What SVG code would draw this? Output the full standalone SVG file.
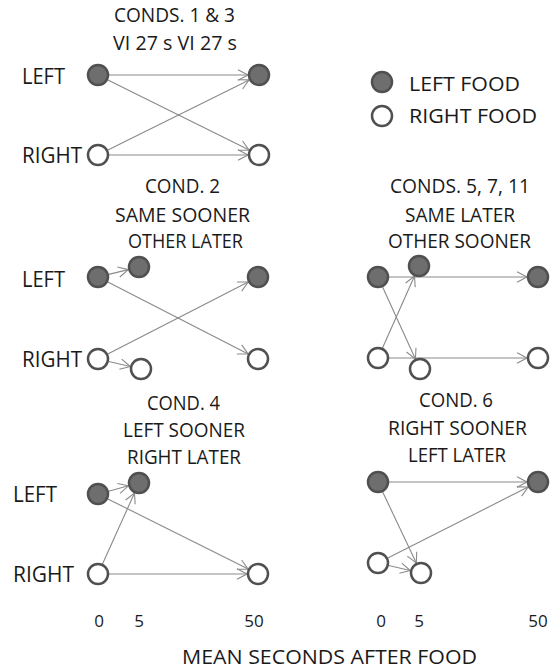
<svg xmlns="http://www.w3.org/2000/svg" width="557" height="671" viewBox="0 0 557 671">
<defs>
<style>
text{font-family:"Open Sans","Liberation Sans",sans-serif;fill:#1a1a1a;font-size:20.5px}
.lab{font-size:21.5px}
.ax{font-size:17px;text-anchor:middle}
.f{fill:#6e6e6e;stroke:#505050;stroke-width:2.5}
.o{fill:#ffffff;stroke:#505050;stroke-width:2.5}
.c line{stroke:#8a8a8a;stroke-width:1.1;marker-end:url(#ah)}
</style>
<marker id="ah" markerUnits="userSpaceOnUse" markerWidth="14" markerHeight="14" refX="11" refY="6" orient="auto" viewBox="0 0 14 12">
<path d="M1,0.8 L11,6 L1,11.2" fill="none" stroke="#8a8a8a" stroke-width="1.1"/>
</marker>
</defs>
<rect width="557" height="671" fill="#ffffff"/>

<g id="connectors" class="c">
<line x1="109" y1="75" x2="248" y2="75"/>
<line x1="107.9" y1="79.9" x2="249.2" y2="150.1"/>
<line x1="107.9" y1="150.1" x2="249.2" y2="79.9"/>
<line x1="109" y1="155" x2="248" y2="155"/>

<line x1="108.7" y1="274.4" x2="128.3" y2="269.6"/>
<line x1="107.8" y1="282" x2="248.2" y2="354"/>
<line x1="107.8" y1="354" x2="248.2" y2="282"/>
<line x1="108.7" y1="361.5" x2="130.3" y2="366.5"/>

<line x1="389" y1="277" x2="527" y2="277"/>
<line x1="389" y1="358" x2="527" y2="358"/>
<line x1="382.6" y1="287" x2="415.4" y2="359"/>
<line x1="382.5" y1="348" x2="414.5" y2="276"/>

<line x1="108.6" y1="491.2" x2="128.4" y2="485.8"/>
<line x1="107.8" y1="498.9" x2="248.2" y2="569.1"/>
<line x1="102.5" y1="564" x2="134.5" y2="493"/>
<line x1="109" y1="574" x2="247" y2="574"/>

<line x1="389" y1="482" x2="527" y2="482"/>
<line x1="382.7" y1="492" x2="416.3" y2="563"/>
<line x1="387.8" y1="558" x2="528.2" y2="487"/>
<line x1="388.7" y1="565.5" x2="410.3" y2="570.5"/>
</g>

<g id="panel1">
<text x="114" y="22" textLength="121" lengthAdjust="spacingAndGlyphs">CONDS. 1 &amp; 3</text>
<text x="113" y="50" textLength="124" lengthAdjust="spacingAndGlyphs">VI 27 s VI 27 s</text>
<text class="lab" x="22" y="84" textLength="43" lengthAdjust="spacingAndGlyphs">LEFT</text>
<text class="lab" x="22" y="163" textLength="60" lengthAdjust="spacingAndGlyphs">RIGHT</text>
<circle id="p1-l0" class="f" cx="98" cy="75" r="10"/>
<circle id="p1-l50" class="f" cx="259" cy="75" r="10"/>
<circle id="p1-r0" class="o" cx="98" cy="155" r="10"/>
<circle id="p1-r50" class="o" cx="259" cy="155" r="10"/>
</g>

<g id="legend">
<circle class="f" cx="382" cy="82" r="10"/>
<circle class="o" cx="382" cy="116" r="10"/>
<text x="409" y="91" textLength="111" lengthAdjust="spacingAndGlyphs">LEFT FOOD</text>
<text x="409" y="123" textLength="128" lengthAdjust="spacingAndGlyphs">RIGHT FOOD</text>
</g>

<g id="panel2">
<text x="145" y="193" textLength="75" lengthAdjust="spacingAndGlyphs">COND. 2</text>
<text x="115" y="222" textLength="135" lengthAdjust="spacingAndGlyphs">SAME SOONER</text>
<text x="128" y="248" textLength="115" lengthAdjust="spacingAndGlyphs">OTHER LATER</text>
<text class="lab" x="22" y="287" textLength="43" lengthAdjust="spacingAndGlyphs">LEFT</text>
<text class="lab" x="22" y="367" textLength="60" lengthAdjust="spacingAndGlyphs">RIGHT</text>
<circle class="f" cx="98" cy="277" r="10"/>
<circle class="f" cx="139" cy="267" r="10"/>
<circle class="f" cx="258" cy="277" r="10"/>
<circle class="o" cx="98" cy="359" r="10"/>
<circle class="o" cx="141" cy="369" r="10"/>
<circle class="o" cx="258" cy="359" r="10"/>
</g>

<g id="panel3">
<text x="390" y="193" textLength="140" lengthAdjust="spacingAndGlyphs">CONDS. 5, 7, 11</text>
<text x="405" y="222" textLength="110" lengthAdjust="spacingAndGlyphs">SAME LATER</text>
<text x="388" y="248" textLength="143" lengthAdjust="spacingAndGlyphs">OTHER SOONER</text>
<circle class="f" cx="378" cy="277" r="10"/>
<circle class="f" cx="419" cy="266" r="10"/>
<circle class="f" cx="538" cy="277" r="10"/>
<circle class="o" cx="378" cy="358" r="10"/>
<circle class="o" cx="420" cy="369" r="10"/>
<circle class="o" cx="538" cy="358" r="10"/>
</g>

<g id="panel4">
<text x="147" y="410" textLength="73" lengthAdjust="spacingAndGlyphs">COND. 4</text>
<text x="123" y="437" textLength="122" lengthAdjust="spacingAndGlyphs">LEFT SOONER</text>
<text x="127" y="464" textLength="114" lengthAdjust="spacingAndGlyphs">RIGHT LATER</text>
<text class="lab" x="13" y="502" textLength="44" lengthAdjust="spacingAndGlyphs">LEFT</text>
<text class="lab" x="13" y="582" textLength="61" lengthAdjust="spacingAndGlyphs">RIGHT</text>
<circle class="f" cx="98" cy="494" r="10"/>
<circle class="f" cx="139" cy="483" r="10"/>
<circle class="o" cx="98" cy="574" r="10"/>
<circle class="o" cx="258" cy="574" r="10"/>
</g>

<g id="panel5">
<text x="419" y="407" textLength="74" lengthAdjust="spacingAndGlyphs">COND. 6</text>
<text x="388" y="435" textLength="139" lengthAdjust="spacingAndGlyphs">RIGHT SOONER</text>
<text x="408" y="462" textLength="98" lengthAdjust="spacingAndGlyphs">LEFT LATER</text>
<circle class="f" cx="378" cy="482" r="10"/>
<circle class="f" cx="538" cy="482" r="10"/>
<circle class="o" cx="378" cy="563" r="10"/>
<circle class="o" cx="421" cy="573" r="10"/>
</g>

<g id="axis">
<text class="ax" x="99" y="627">0</text>
<text class="ax" x="139" y="627">5</text>
<text class="ax" x="254" y="627">50</text>
<text class="ax" x="381" y="627">0</text>
<text class="ax" x="419" y="627">5</text>
<text class="ax" x="538" y="627">50</text>
<text x="182" y="664" textLength="295" lengthAdjust="spacingAndGlyphs">MEAN SECONDS AFTER FOOD</text>
</g>
</svg>
